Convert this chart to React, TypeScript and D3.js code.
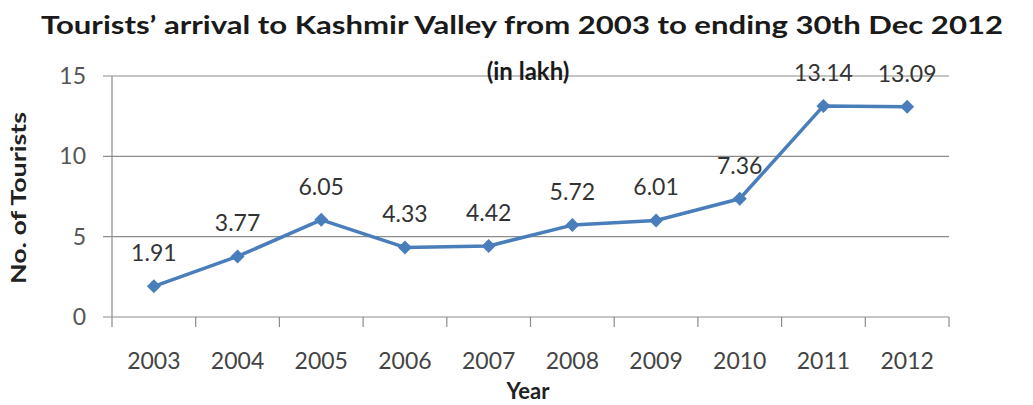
import React from "react";
import * as d3 from "d3";

const years = ["2003", "2004", "2005", "2006", "2007", "2008", "2009", "2010", "2011", "2012"];
const tourists = [1.91, 3.77, 6.05, 4.33, 4.42, 5.72, 6.01, 7.36, 13.14, 13.09];
const labels = ["1.91", "3.77", "6.05", "4.33", "4.42", "5.72", "6.01", "7.36", "13.14", "13.09"];
const yTicks = [0, 5, 10, 15];

const W = 1033;
const H = 405;
const left = 112;
const right = 949;
const top = 76;
const bottom = 317;
const font = "Lato, 'Open Sans', sans-serif";

export default function App() {
  const x = d3.scaleBand<string>().domain(years).range([left, right]);
  const y = d3.scaleLinear().domain([0, 15]).range([bottom, top]);
  const cx = (d: string) => (x(d) as number) + x.bandwidth() / 2;
  const line = d3
    .line<number>()
    .x((_, i) => cx(years[i]))
    .y((v) => y(v));
  const tickXs = years.map((d) => x(d) as number).concat([right]);
  const diamond = (px: number, py: number, r: number) =>
    `M${px},${py - r}L${px + r},${py}L${px},${py + r}L${px - r},${py}Z`;

  return (
    <svg
      width={W}
      height={H}
      style={{ position: "absolute", left: 0, top: 0, background: "#fff" }}
      fontFamily={font}
    >
      <rect width={W} height={H} fill="#fff" />
      <text
        x={522}
        y={34}
        textAnchor="middle"
        fontSize={25}
        fontWeight="bold"
        fill="#1a1a1a"
        textLength={962}
        lengthAdjust="spacingAndGlyphs"
      >
        Tourists’ arrival to Kashmir  Valley from 2003 to ending 30th Dec 2012
      </text>
      {yTicks.map((t) => (
        <g key={t}>
          <line x1={left - 9} x2={right} y1={y(t)} y2={y(t)} stroke="#8c8c8c" strokeWidth={1.2} />
          <text x={86} y={y(t) + 8} textAnchor="end" fontSize={23} fill="#555">
            {t}
          </text>
        </g>
      ))}
      <text x={528} y={80} textAnchor="middle" fontSize={24} fontWeight="bold" fill="#1a1a1a">
        (in lakh)
      </text>
      <line x1={left} x2={left} y1={top} y2={bottom} stroke="#8c8c8c" strokeWidth={1.2} />
      {tickXs.map((tx, i) => (
        <line key={i} x1={tx} x2={tx} y1={bottom} y2={bottom + 10} stroke="#8c8c8c" strokeWidth={1.2} />
      ))}
      {years.map((d) => (
        <text key={d} x={cx(d)} y={369} textAnchor="middle" fontSize={23} fill="#444">
          {d}
        </text>
      ))}
      <text x={528} y={399} textAnchor="middle" fontSize={22} fontWeight="bold" fill="#222">
        Year
      </text>
      <text
        transform={`translate(26,198) rotate(-90)`}
        textAnchor="middle"
        fontSize={20}
        fontWeight="bold"
        fill="#222"
        textLength={172}
        lengthAdjust="spacingAndGlyphs"
      >
        No. of Tourists
      </text>
      <path d={line(tourists) as string} fill="none" stroke="#4a7ebb" strokeWidth={3.5} strokeLinejoin="round" />
      {tourists.map((v, i) => (
        <path key={i} d={diamond(cx(years[i]), y(v), 7)} fill="#4a7ebb" />
      ))}
      {tourists.map((v, i) => (
        <text key={i} x={cx(years[i])} y={y(v) - 25} textAnchor="middle" fontSize={23} fill="#333">
          {labels[i]}
        </text>
      ))}
    </svg>
  );
}
